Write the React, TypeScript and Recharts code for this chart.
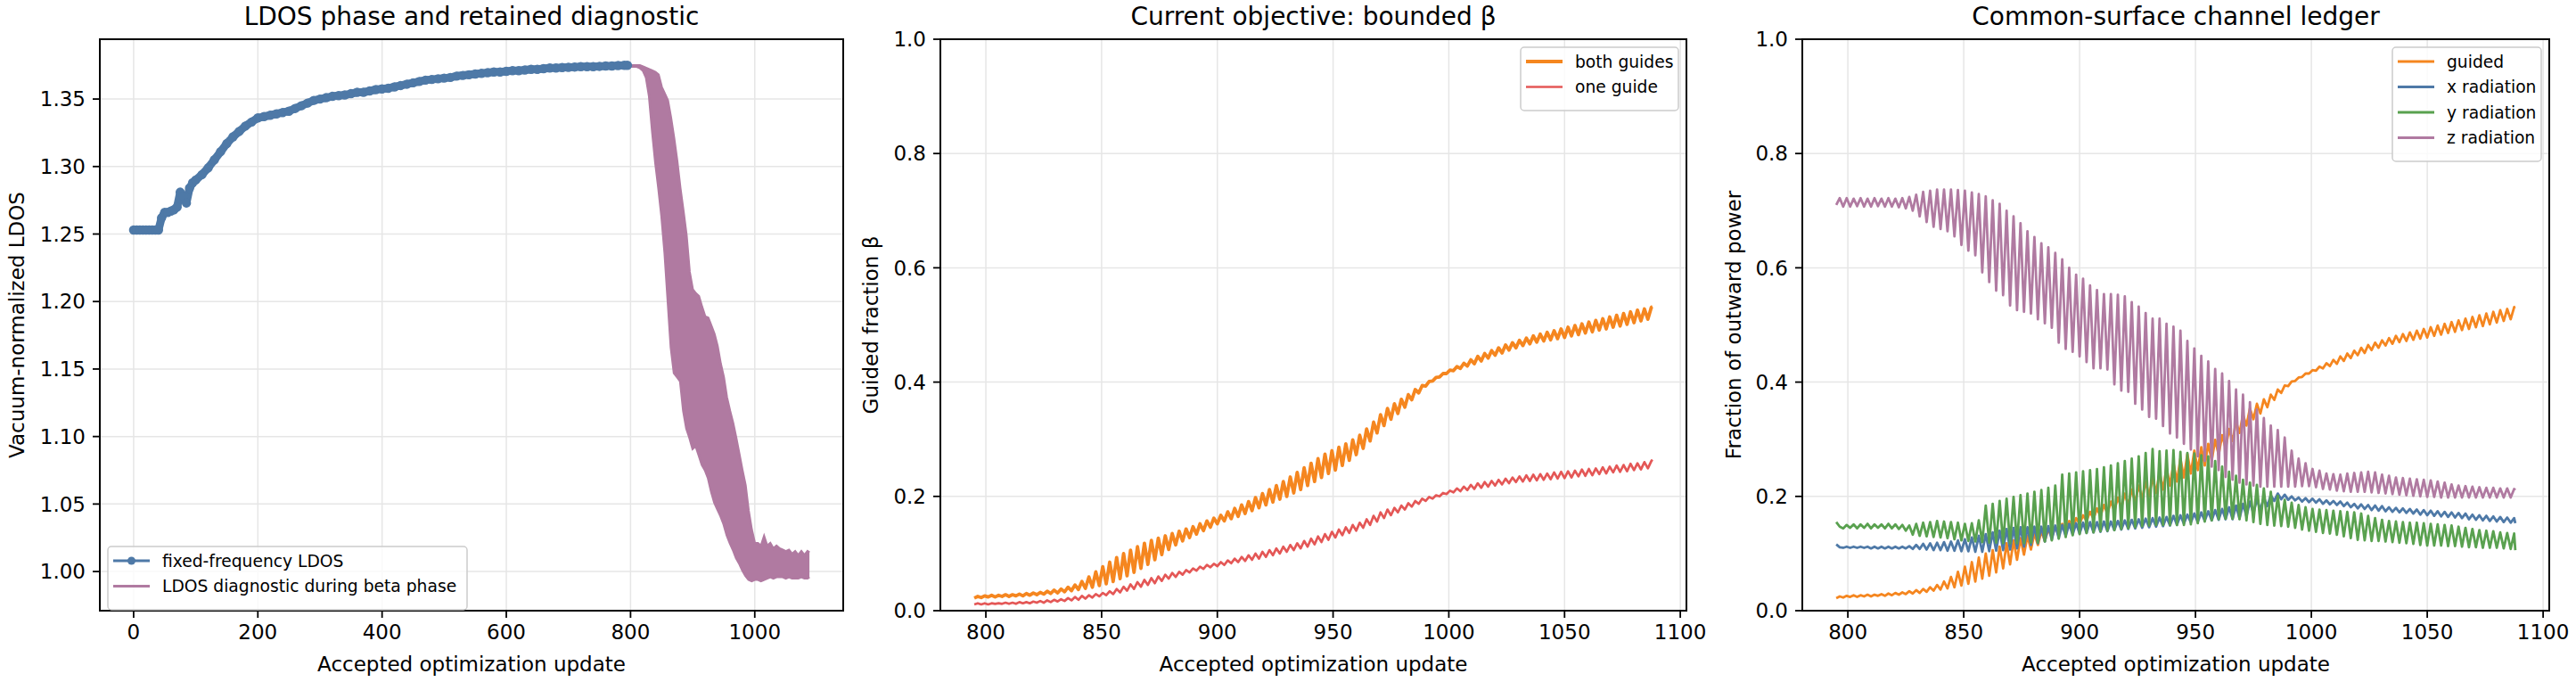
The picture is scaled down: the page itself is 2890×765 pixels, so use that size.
import React from 'react'
import {
  ComposedChart,
  LineChart,
  Line,
  Area,
  XAxis,
  YAxis,
  CartesianGrid,
} from 'recharts'

const COLORS = {
  blue: '#4e79a7',
  pink: '#b07aa1',
  orange: '#f5861f',
  red: '#e45756',
  green: '#59a14f',
  grid: '#e6e6e6',
}

const FONT = 'DejaVu Sans, Verdana, sans-serif'

// panel 1: fixed-frequency LDOS (every 5 updates up to 100, every 10 after)
const LDOS_UPDATES = [
  0, 5, 10, 15, 20, 25, 30, 35, 40, 45, 50, 55, 60, 65, 70, 75, 80, 85, 90, 95, 100,
  110, 120, 130, 140, 150, 160, 170, 180, 190, 200, 210, 220, 230, 240, 250, 260, 270, 280, 290,
  300, 310, 320, 330, 340, 350, 360, 370, 380, 390, 400, 410, 420, 430, 440, 450, 460, 470, 480, 490,
  500, 510, 520, 530, 540, 550, 560, 570, 580, 590, 600, 610, 620, 630, 640, 650, 660, 670, 680, 690,
  700, 710, 720, 730, 740, 750, 760, 770, 780, 790, 795,
]
const LDOS_VALUES = [
  1.253, 1.253, 1.253, 1.253, 1.253, 1.253, 1.253, 1.253, 1.253, 1.262, 1.266, 1.266, 1.267, 1.268, 1.27, 1.281, 1.278, 1.273, 1.284, 1.288, 1.29,
  1.294, 1.299, 1.305, 1.311, 1.317, 1.322, 1.326, 1.33, 1.333, 1.336, 1.337, 1.338, 1.339, 1.34, 1.341, 1.343, 1.345, 1.347, 1.349,
  1.35, 1.351, 1.352, 1.3525, 1.353, 1.354, 1.355, 1.355, 1.356, 1.357, 1.3575, 1.358, 1.359, 1.36, 1.361, 1.362, 1.363, 1.364, 1.3645, 1.365,
  1.3655, 1.366, 1.367, 1.3675, 1.368, 1.3685, 1.369, 1.3695, 1.37, 1.37, 1.3705, 1.371, 1.371, 1.3715, 1.372, 1.372, 1.3725, 1.373, 1.373, 1.3733,
  1.3735, 1.3737, 1.374, 1.374, 1.374, 1.3742, 1.3745, 1.3745, 1.3748, 1.375, 1.375,
]

// panel 1: LDOS diagnostic during beta phase, envelope of the oscillation
const BETA_LDOS_UPDATES = [
  795, 800, 805, 810, 815, 820, 825, 830, 835, 840, 845, 850, 855, 860, 865, 870, 875, 880, 885, 890,
  895, 900, 905, 910, 915, 920, 925, 930, 935, 940, 945, 950, 955, 960, 965, 970, 975, 980, 985, 990,
  995, 1000, 1005, 1010, 1015, 1020, 1025, 1030, 1035, 1040, 1045, 1050, 1055, 1060, 1065, 1070, 1075, 1080, 1085, 1088,
]
const BETA_LDOS_HIGH = [
  1.375, 1.375, 1.375, 1.375, 1.375, 1.374, 1.373, 1.372, 1.371, 1.37, 1.368, 1.359, 1.354, 1.349, 1.336, 1.321, 1.304, 1.284, 1.267, 1.249,
  1.222, 1.209, 1.206, 1.204, 1.196, 1.189, 1.188, 1.182, 1.176, 1.167, 1.154, 1.144, 1.129, 1.119, 1.11, 1.099, 1.087, 1.075, 1.064, 1.045,
  1.031, 1.021, 1.021, 1.019, 1.026, 1.019, 1.021, 1.017, 1.019, 1.017, 1.016, 1.015, 1.016, 1.013, 1.015, 1.012, 1.015, 1.012, 1.015, 1.014,
]
const BETA_LDOS_LOW = [
  1.375, 1.374, 1.374, 1.374, 1.373, 1.371, 1.366, 1.352, 1.326, 1.303, 1.284, 1.263, 1.236, 1.201, 1.166, 1.147, 1.144, 1.141, 1.119, 1.106,
  1.099, 1.091, 1.093, 1.086, 1.079, 1.075, 1.069, 1.059, 1.051, 1.046, 1.041, 1.035, 1.027, 1.021, 1.016, 1.01, 1.006, 1.001, 0.997, 0.994,
  0.993, 0.994, 0.994, 0.993, 0.994, 0.995, 0.996, 0.995, 0.996, 0.996, 0.996, 0.995, 0.996, 0.995, 0.995, 0.995, 0.996, 0.995, 0.995, 0.996,
]

// panels 2 and 3: one oscillation every 3 updates from 795; trough then peak
const CYCLE_UPDATES = Array.from({ length: 98 }, (_, i) => 795 + 3 * i)
const LAST_UPDATE = 1088

const BOTH_LO = [
  0.022, 0.023, 0.024, 0.024, 0.025, 0.025, 0.026, 0.026, 0.027, 0.028,
  0.029, 0.03, 0.031, 0.033, 0.035, 0.037, 0.039, 0.041, 0.044, 0.047,
  0.051, 0.056, 0.061, 0.067, 0.074, 0.081, 0.089, 0.098, 0.107, 0.115,
  0.122, 0.128, 0.134, 0.14, 0.146, 0.152, 0.157, 0.161, 0.165, 0.17,
  0.175, 0.18, 0.185, 0.19, 0.195, 0.2, 0.206, 0.212, 0.219, 0.226,
  0.233, 0.24, 0.246, 0.254, 0.263, 0.273, 0.284, 0.297, 0.311, 0.324,
  0.335, 0.345, 0.356, 0.369, 0.381, 0.393, 0.402, 0.409, 0.415, 0.42,
  0.424, 0.428, 0.432, 0.437, 0.442, 0.447, 0.451, 0.456, 0.46, 0.464,
  0.467, 0.47, 0.472, 0.474, 0.476, 0.478, 0.481, 0.483, 0.486, 0.488,
  0.491, 0.493, 0.496, 0.498, 0.501, 0.504, 0.507, 0.51,
]
const BOTH_HI = [
  0.025, 0.026, 0.027, 0.027, 0.028, 0.028, 0.029, 0.03, 0.031, 0.032,
  0.034, 0.036, 0.038, 0.041, 0.045, 0.051, 0.059, 0.068, 0.077, 0.085,
  0.093, 0.1, 0.106, 0.112, 0.118, 0.123, 0.127, 0.131, 0.135, 0.139,
  0.143, 0.147, 0.152, 0.157, 0.162, 0.167, 0.173, 0.179, 0.185, 0.191,
  0.198, 0.205, 0.212, 0.219, 0.226, 0.234, 0.242, 0.25, 0.258, 0.266,
  0.274, 0.28, 0.286, 0.292, 0.299, 0.307, 0.318, 0.33, 0.343, 0.354,
  0.362, 0.37, 0.378, 0.387, 0.394, 0.401, 0.408, 0.415, 0.421, 0.427,
  0.433, 0.439, 0.445, 0.45, 0.455, 0.46, 0.465, 0.469, 0.473, 0.477,
  0.481, 0.484, 0.487, 0.49, 0.493, 0.496, 0.499, 0.502, 0.505, 0.508,
  0.511, 0.514, 0.517, 0.52, 0.523, 0.526, 0.528, 0.531,
]
const ONE_LO = [
  0.011, 0.011, 0.011, 0.012, 0.012, 0.012, 0.012, 0.013, 0.013, 0.014,
  0.014, 0.015, 0.016, 0.017, 0.018, 0.019, 0.021, 0.023, 0.025, 0.027,
  0.029, 0.032, 0.035, 0.038, 0.042, 0.045, 0.048, 0.052, 0.056, 0.059,
  0.063, 0.067, 0.07, 0.073, 0.076, 0.078, 0.08, 0.083, 0.085, 0.087,
  0.089, 0.091, 0.094, 0.097, 0.1, 0.103, 0.106, 0.109, 0.112, 0.116,
  0.12, 0.124, 0.128, 0.132, 0.136, 0.14, 0.145, 0.15, 0.156, 0.162,
  0.167, 0.172, 0.177, 0.182, 0.187, 0.192, 0.196, 0.2, 0.204, 0.207,
  0.209, 0.211, 0.213, 0.215, 0.217, 0.219, 0.221, 0.223, 0.225, 0.226,
  0.227, 0.228, 0.229, 0.23, 0.231, 0.232, 0.233, 0.235, 0.236, 0.237,
  0.239, 0.24, 0.242, 0.243, 0.244, 0.246, 0.247, 0.249,
]
const ONE_HI = [
  0.013, 0.013, 0.013, 0.013, 0.014, 0.014, 0.015, 0.015, 0.016, 0.017,
  0.018, 0.019, 0.02, 0.022, 0.024, 0.026, 0.027, 0.029, 0.031, 0.034,
  0.038, 0.042, 0.046, 0.05, 0.054, 0.057, 0.06, 0.063, 0.066, 0.068,
  0.071, 0.074, 0.077, 0.08, 0.082, 0.085, 0.088, 0.091, 0.094, 0.097,
  0.1, 0.103, 0.106, 0.109, 0.112, 0.115, 0.118, 0.122, 0.126, 0.13,
  0.134, 0.138, 0.142, 0.146, 0.15, 0.154, 0.16, 0.166, 0.172, 0.177,
  0.18, 0.184, 0.188, 0.192, 0.196, 0.199, 0.202, 0.206, 0.21, 0.214,
  0.217, 0.22, 0.223, 0.225, 0.227, 0.229, 0.231, 0.233, 0.235, 0.237,
  0.238, 0.239, 0.24, 0.242, 0.243, 0.244, 0.245, 0.247, 0.248, 0.249,
  0.251, 0.252, 0.254, 0.255, 0.257, 0.258, 0.26, 0.262,
]
const X_RAD_LO = [
  0.116, 0.11, 0.11, 0.11, 0.11, 0.109, 0.109, 0.109, 0.109, 0.109,
  0.109, 0.108, 0.108, 0.107, 0.106, 0.106, 0.105, 0.105, 0.104, 0.104,
  0.103, 0.103, 0.104, 0.105, 0.106, 0.107, 0.109, 0.112, 0.115, 0.118,
  0.121, 0.124, 0.127, 0.13, 0.133, 0.135, 0.136, 0.137, 0.138, 0.139,
  0.141, 0.142, 0.143, 0.144, 0.145, 0.146, 0.147, 0.148, 0.149, 0.15,
  0.152, 0.154, 0.155, 0.157, 0.158, 0.159, 0.16, 0.16, 0.161, 0.165,
  0.17, 0.176, 0.183, 0.192, 0.195, 0.194, 0.193, 0.191, 0.19, 0.189,
  0.187, 0.186, 0.185, 0.183, 0.181, 0.179, 0.178, 0.176, 0.175, 0.174,
  0.173, 0.172, 0.171, 0.17, 0.168, 0.167, 0.166, 0.165, 0.164, 0.163,
  0.162, 0.16, 0.159, 0.158, 0.157, 0.156, 0.155, 0.154,
]
const X_RAD_HI = [
  0.111, 0.112, 0.112, 0.112, 0.112, 0.112, 0.112, 0.112, 0.112, 0.112,
  0.113, 0.115, 0.117, 0.118, 0.119, 0.12, 0.121, 0.123, 0.125, 0.128,
  0.131, 0.134, 0.137, 0.14, 0.143, 0.145, 0.146, 0.146, 0.147, 0.147,
  0.148, 0.149, 0.15, 0.152, 0.153, 0.154, 0.155, 0.155, 0.156, 0.156,
  0.157, 0.158, 0.159, 0.16, 0.161, 0.162, 0.163, 0.164, 0.166, 0.167,
  0.168, 0.17, 0.172, 0.174, 0.176, 0.178, 0.181, 0.184, 0.187, 0.191,
  0.195, 0.198, 0.202, 0.205, 0.203, 0.2, 0.198, 0.197, 0.196, 0.195,
  0.193, 0.192, 0.191, 0.189, 0.187, 0.186, 0.185, 0.184, 0.183, 0.181,
  0.18, 0.179, 0.178, 0.177, 0.176, 0.175, 0.174, 0.173, 0.172, 0.171,
  0.17, 0.168, 0.167, 0.166, 0.165, 0.164, 0.163, 0.162,
]
const Y_RAD_LO = [
  0.155, 0.144, 0.145, 0.144, 0.145, 0.144, 0.145, 0.144, 0.144, 0.143,
  0.14, 0.133, 0.131, 0.13, 0.129, 0.128, 0.127, 0.125, 0.123, 0.122,
  0.121, 0.12, 0.119, 0.119, 0.118, 0.118, 0.118, 0.118, 0.119, 0.119,
  0.121, 0.123, 0.126, 0.129, 0.132, 0.134, 0.136, 0.137, 0.139, 0.14,
  0.141, 0.143, 0.144, 0.146, 0.148, 0.149, 0.15, 0.15, 0.15, 0.15,
  0.15, 0.151, 0.153, 0.156, 0.158, 0.16, 0.161, 0.161, 0.16, 0.158,
  0.155, 0.152, 0.15, 0.149, 0.148, 0.147, 0.145, 0.142, 0.14, 0.138,
  0.136, 0.135, 0.133, 0.13, 0.127, 0.124, 0.123, 0.122, 0.122, 0.121,
  0.12, 0.119, 0.118, 0.117, 0.115, 0.114, 0.114, 0.114, 0.113, 0.113,
  0.112, 0.111, 0.111, 0.11, 0.11, 0.11, 0.109, 0.108,
]
const Y_RAD_HI = [
  0.147, 0.15, 0.151, 0.151, 0.152, 0.151, 0.151, 0.152, 0.151, 0.15,
  0.149, 0.152, 0.154, 0.155, 0.157, 0.156, 0.155, 0.154, 0.152, 0.153,
  0.158, 0.184, 0.187, 0.192, 0.196, 0.199, 0.202, 0.205, 0.208, 0.211,
  0.215, 0.219, 0.238, 0.24, 0.242, 0.244, 0.246, 0.248, 0.251, 0.254,
  0.258, 0.262, 0.266, 0.27, 0.276, 0.283, 0.279, 0.28, 0.281, 0.278,
  0.276, 0.275, 0.272, 0.27, 0.262, 0.252, 0.243, 0.236, 0.229, 0.224,
  0.22, 0.214, 0.208, 0.201, 0.194, 0.189, 0.185, 0.181, 0.178, 0.177,
  0.176, 0.175, 0.174, 0.173, 0.172, 0.17, 0.166, 0.162, 0.159, 0.157,
  0.156, 0.155, 0.154, 0.154, 0.153, 0.152, 0.151, 0.15, 0.149, 0.147,
  0.145, 0.143, 0.141, 0.14, 0.139, 0.137, 0.136, 0.135,
]
const Z_RAD_LO = [
  0.71, 0.707, 0.707, 0.708, 0.707, 0.707, 0.708, 0.707, 0.707, 0.706,
  0.704, 0.7, 0.69, 0.68, 0.672, 0.668, 0.664, 0.655, 0.64, 0.63,
  0.622, 0.592, 0.575, 0.56, 0.552, 0.534, 0.526, 0.523, 0.52, 0.51,
  0.503, 0.495, 0.469, 0.458, 0.453, 0.445, 0.435, 0.424, 0.424, 0.422,
  0.396, 0.385, 0.383, 0.362, 0.352, 0.339, 0.336, 0.323, 0.31, 0.303,
  0.292, 0.282, 0.27, 0.262, 0.252, 0.246, 0.234, 0.229, 0.224, 0.221,
  0.219, 0.217, 0.217, 0.217, 0.217, 0.217, 0.217, 0.218, 0.218, 0.216,
  0.213, 0.212, 0.21, 0.209, 0.208, 0.208, 0.208, 0.207, 0.206, 0.205,
  0.204, 0.203, 0.202, 0.201, 0.2, 0.199, 0.199, 0.198, 0.198, 0.198,
  0.198, 0.198, 0.198, 0.198, 0.198, 0.198, 0.198, 0.198,
]
const Z_RAD_HI = [
  0.722, 0.722, 0.721, 0.722, 0.721, 0.722, 0.721, 0.722, 0.721, 0.722,
  0.724, 0.728, 0.733, 0.735, 0.737, 0.737, 0.737, 0.736, 0.735, 0.732,
  0.729, 0.725, 0.718, 0.712, 0.7, 0.69, 0.678, 0.664, 0.654, 0.643,
  0.636, 0.626, 0.615, 0.6, 0.588, 0.581, 0.569, 0.561, 0.554, 0.554,
  0.553, 0.55, 0.54, 0.532, 0.521, 0.511, 0.511, 0.502, 0.497, 0.49,
  0.472, 0.459, 0.446, 0.436, 0.423, 0.415, 0.402, 0.387, 0.378, 0.365,
  0.352, 0.337, 0.324, 0.316, 0.303, 0.28, 0.266, 0.258, 0.248, 0.245,
  0.24, 0.239, 0.238, 0.24, 0.241, 0.242, 0.243, 0.242, 0.238, 0.236,
  0.233, 0.232, 0.231, 0.23, 0.229, 0.228, 0.226, 0.224, 0.221, 0.219,
  0.218, 0.217, 0.216, 0.215, 0.215, 0.214, 0.214, 0.213,
]
// values at the final accepted update
const LAST_VALUES = { both: 0.532, one: 0.264, xr: 0.153, yr: 0.106, zr: 0.211 }

const LDOS_TICKS_X = [0, 200, 400, 600, 800, 1000]
const LDOS_TICKS_Y = [1.0, 1.05, 1.1, 1.15, 1.2, 1.25, 1.3, 1.35]
const BETA_TICKS_X = [800, 850, 900, 950, 1000, 1050, 1100]
const FRACTION_TICKS_Y = [0, 0.2, 0.4, 0.6, 0.8, 1.0]

const ldosRows = [
  ...LDOS_UPDATES.map((u, i) => ({ u, ldos: LDOS_VALUES[i] })),
  ...BETA_LDOS_UPDATES.map((u, i) => ({ u, band: [BETA_LDOS_LOW[i], BETA_LDOS_HIGH[i]] })),
]

const cycleRows = CYCLE_UPDATES.flatMap((u, i) => [
  { u, both: BOTH_LO[i], one: ONE_LO[i], xr: X_RAD_LO[i], yr: Y_RAD_LO[i], zr: Z_RAD_LO[i] },
  { u: u + 1.5, both: BOTH_HI[i], one: ONE_HI[i], xr: X_RAD_HI[i], yr: Y_RAD_HI[i], zr: Z_RAD_HI[i] },
])
cycleRows.push({ u: LAST_UPDATE, ...LAST_VALUES })

const CHART_H = 765
const PLOT_TOP = 44
const PLOT_BOTTOM = 685
const Y_AXIS_W = 100
const RIGHT_PAD = 40

const PANELS = [
  { left: 112, right: 946 },
  { left: 1055, right: 1892 },
  { left: 2022, right: 2860 },
]

const tickStyle = { fontSize: 23, fill: '#000', fontFamily: FONT }
const tickLine = { stroke: '#000', strokeWidth: 1.8 }

function axes(xDomain: number[], xTicks: number[], yDomain: number[], yTicks: number[], digits: number) {
  return [
    <CartesianGrid key="g" stroke={COLORS.grid} strokeWidth={1.5} />,
    <XAxis
      key="x"
      type="number"
      dataKey="u"
      domain={xDomain}
      ticks={xTicks}
      interval={0}
      allowDataOverflow
      height={CHART_H - PLOT_BOTTOM}
      tickSize={8}
      tickMargin={8}
      tick={tickStyle}
      tickLine={tickLine}
      axisLine={false}
    />,
    <YAxis
      key="y"
      type="number"
      domain={yDomain}
      ticks={yTicks}
      interval={0}
      allowDataOverflow
      width={Y_AXIS_W}
      tickSize={8}
      tickMargin={8}
      tick={tickStyle}
      tickLine={tickLine}
      axisLine={false}
      tickFormatter={(v: number) => v.toFixed(digits)}
    />,
  ]
}

function LegendBox({ x, y, w, rows }: { x: number; y: number; w: number; rows: { label: string; color: string; width: number; marker?: boolean }[] }) {
  const h = 22 + rows.length * 28.5 - 8
  return (
    <g>
      <rect x={x} y={y} width={w} height={h} rx={4} fill="#fff" fillOpacity={0.8} stroke="#cccccc" strokeWidth={1.5} />
      {rows.map((r, i) => {
        const cy = y + 16 + i * 28.5
        return (
          <g key={r.label}>
            <line x1={x + 6} x2={x + 47} y1={cy} y2={cy} stroke={r.color} strokeWidth={r.width} />
            {r.marker && <circle cx={x + 26.5} cy={cy} r={4.5} fill={r.color} />}
            <text x={x + 61} y={cy + 6.5} fontSize={18.7} fontFamily={FONT} fill="#000">
              {r.label}
            </text>
          </g>
        )
      })}
    </g>
  )
}

export default function App() {
  const midY = (PLOT_TOP + PLOT_BOTTOM) / 2
  const centers = PANELS.map((p) => (p.left + p.right) / 2)
  const lineProps = { type: 'linear' as const, dot: false, activeDot: false, isAnimationActive: false, strokeLinejoin: 'round' as const }
  const margin = { top: PLOT_TOP, right: RIGHT_PAD, bottom: 0, left: 0 }
  const chartWidth = (i: number) => PANELS[i].right - PANELS[i].left + Y_AXIS_W + RIGHT_PAD

  return (
    <div style={{ position: 'absolute', left: 0, top: 0, width: 2890, height: CHART_H, background: '#fff', overflow: 'hidden' }}>
      <div style={{ position: 'absolute', left: PANELS[0].left - Y_AXIS_W, top: 0 }}>
        <ComposedChart width={chartWidth(0)} height={CHART_H} data={ldosRows} margin={margin}>
          {axes([-54.4, 1142.4], LDOS_TICKS_X, [0.971, 1.3943], LDOS_TICKS_Y, 2)}
          <Line
            {...lineProps}
            dataKey="ldos"
            stroke={COLORS.blue}
            strokeWidth={9}
            strokeLinecap="round"
            dot={{ r: 5.2, fill: COLORS.blue, stroke: COLORS.blue, strokeWidth: 0 }}
          />
          <Area
            type="linear"
            dataKey="band"
            stroke={COLORS.pink}
            strokeWidth={2.7}
            fill={COLORS.pink}
            fillOpacity={1}
            dot={false}
            activeDot={false}
            isAnimationActive={false}
          />
        </ComposedChart>
      </div>

      <div style={{ position: 'absolute', left: PANELS[1].left - Y_AXIS_W, top: 0 }}>
        <LineChart width={chartWidth(1)} height={CHART_H} data={cycleRows} margin={margin}>
          {axes([780.35, 1102.65], BETA_TICKS_X, [0, 1], FRACTION_TICKS_Y, 1)}
          <Line {...lineProps} dataKey="both" stroke={COLORS.orange} strokeWidth={3.8} />
          <Line {...lineProps} dataKey="one" stroke={COLORS.red} strokeWidth={2.7} />
        </LineChart>
      </div>

      <div style={{ position: 'absolute', left: PANELS[2].left - Y_AXIS_W, top: 0 }}>
        <LineChart width={chartWidth(2)} height={CHART_H} data={cycleRows} margin={margin}>
          {axes([780.35, 1102.65], BETA_TICKS_X, [0, 1], FRACTION_TICKS_Y, 1)}
          <Line {...lineProps} dataKey="both" stroke={COLORS.orange} strokeWidth={2.8} />
          <Line {...lineProps} dataKey="xr" stroke={COLORS.blue} strokeWidth={2.8} />
          <Line {...lineProps} dataKey="yr" stroke={COLORS.green} strokeWidth={2.8} />
          <Line {...lineProps} dataKey="zr" stroke={COLORS.pink} strokeWidth={2.8} />
        </LineChart>
      </div>

      <svg
        width={2890}
        height={CHART_H}
        style={{ position: 'absolute', left: 0, top: 0, pointerEvents: 'none' }}
      >
        {PANELS.map((p, i) => (
          <rect
            key={i}
            x={p.left}
            y={PLOT_TOP}
            width={p.right - p.left}
            height={PLOT_BOTTOM - PLOT_TOP}
            fill="none"
            stroke="#000"
            strokeWidth={2}
          />
        ))}
        {['LDOS phase and retained diagnostic', 'Current objective: bounded β', 'Common-surface channel ledger'].map((t, i) => (
          <text key={t} x={centers[i]} y={28} textAnchor="middle" fontSize={28} fontFamily={FONT} fill="#000">
            {t}
          </text>
        ))}
        {centers.map((c, i) => (
          <text key={i} x={c} y={753} textAnchor="middle" fontSize={23} fontFamily={FONT} fill="#000">
            Accepted optimization update
          </text>
        ))}
        {[
          { x: 27, t: 'Vacuum-normalized LDOS' },
          { x: 985, t: 'Guided fraction β' },
          { x: 1953, t: 'Fraction of outward power' },
        ].map((l) => (
          <text
            key={l.t}
            x={l.x}
            y={midY}
            transform={`rotate(-90 ${l.x} ${midY})`}
            textAnchor="middle"
            fontSize={23}
            fontFamily={FONT}
            fill="#000"
          >
            {l.t}
          </text>
        ))}
        <LegendBox
          x={121}
          y={613}
          w={403}
          rows={[
            { label: 'fixed-frequency LDOS', color: COLORS.blue, width: 3, marker: true },
            { label: 'LDOS diagnostic during beta phase', color: COLORS.pink, width: 3 },
          ]}
        />
        <LegendBox
          x={1706}
          y={53}
          w={177}
          rows={[
            { label: 'both guides', color: COLORS.orange, width: 3.8 },
            { label: 'one guide', color: COLORS.red, width: 2.7 },
          ]}
        />
        <LegendBox
          x={2684}
          y={53}
          w={167}
          rows={[
            { label: 'guided', color: COLORS.orange, width: 2.8 },
            { label: 'x radiation', color: COLORS.blue, width: 2.8 },
            { label: 'y radiation', color: COLORS.green, width: 2.8 },
            { label: 'z radiation', color: COLORS.pink, width: 2.8 },
          ]}
        />
      </svg>
    </div>
  )
}
